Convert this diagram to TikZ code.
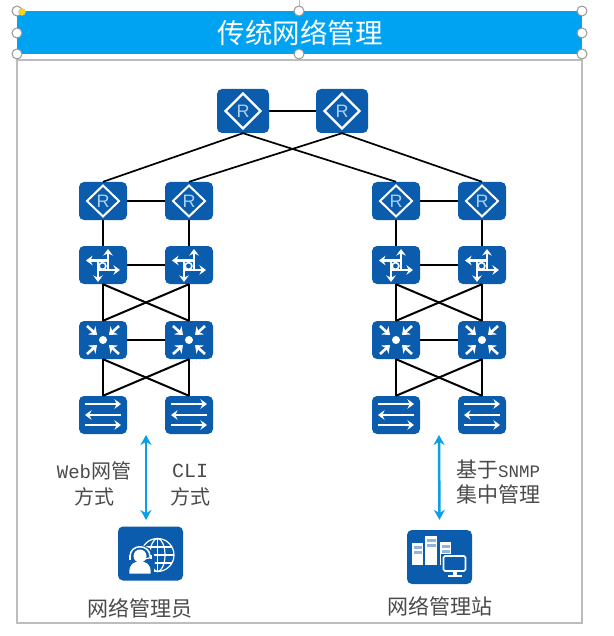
\documentclass[tikz,border=0pt]{standalone}
\usepackage{fontspec}
\setmainfont{Noto Sans CJK SC}
\setsansfont{Liberation Sans}
\newfontfamily\lat{Liberation Mono}
\usetikzlibrary{arrows.meta}
\definecolor{dev}{HTML}{0B5CAD}
\definecolor{ttl}{HTML}{00A2F2}
\definecolor{arr}{HTML}{0A9FE6}
\definecolor{frm}{HTML}{BDBDBD}
\definecolor{txt}{HTML}{4A4A4A}
\definecolor{rr}{HTML}{A9D2F2}
\tikzset{
  x=1pt,y=-1pt,
  devbox/.style={fill=dev,rounded corners=5pt,minimum width=48pt,minimum height=38pt,inner sep=0pt,draw=none},
  routerbox/.style={devbox,text=rr,font=\sffamily\fontsize{18}{18}\selectfont},
  toprouter/.style={routerbox,minimum width=52pt,minimum height=44pt},
  bigbox/.style={devbox,minimum width=65pt,minimum height=54pt},
  link/.style={line width=2pt,black},
  both/.style={line width=2.5pt,arr,{Stealth[length=10pt,width=11pt]}-{Stealth[length=10pt,width=11pt]}},
  lbl/.style={text=txt,font=\fontsize{20}{20}\selectfont,inner sep=0pt},
  handle/.style={circle,draw=frm!80!black,fill=white,line width=1pt,minimum size=10pt,inner sep=0pt},
  icoarrow/.style={white,line width=2.2pt,-{Stealth[length=6.5pt,width=9.5pt]}},
  rdiamond/.pic={\draw[white,line width=2pt,line join=miter] (-16,0)--(0,-15.5)--(16,0)--(0,15.5)--cycle;},
  topdiamond/.pic={\draw[white,line width=2.2pt,line join=miter] (-17.5,0)--(0,-17.5)--(17.5,0)--(0,17.5)--cycle;},
  l3icon/.pic={
    \draw[icoarrow] (5,5)--(5,-16);
    \draw[icoarrow] (5,-4.5)--(-17,-4.5);
    \draw[icoarrow] (-5,5)--(17,5);
    \draw[icoarrow] (-5,-4.5)--(-5,17);
    \draw[white,fill=dev,line width=1.6pt] (-0.5,1) circle (3.4);
  },
  coreicon/.pic={
    \fill[white] (0,0) circle (4);
    \foreach \sx/\sy in {1/1,1/-1,-1/1,-1/-1}{
      \draw[white,line width=2.6pt,-{Stealth[length=7pt,width=11pt]}] (\sx*16,\sy*14)--(\sx*6,\sy*5);
    }
  },
  l2icon/.pic={
    \draw[icoarrow] (-18,-11)--(18,-11);
    \draw[icoarrow] (18,0)--(-18,0);
    \draw[icoarrow] (-18,10)--(18,10);
  },
}
\begin{document}
\begin{tikzpicture}
\useasboundingbox (0,0) rectangle (613,636);
% frame and title
\draw[frm,line width=1.4pt] (17,60) rectangle (582,623);
\draw[frm,line width=1pt] (299,0)--(299,11);
\fill[ttl] (17,11) rectangle (582,54);
\node[text=white,font=\fontsize{27.5}{27.5}\selectfont,inner sep=0pt] (title) at (300,33) {传统网络管理};
\foreach \n/\a/\b in {h1/17/11,h2/299/11,h3/582/11,h4/17/33,h5/582/33,h6/17/54,h7/299/54,h8/582/54}{
  \node[handle] (\n) at (\a,\b) {};
}
\fill[yellow!75!orange,draw=frm] (22,12) circle (3.5);
% devices
\node[toprouter] (t1) at (243,111) {R};
\node[toprouter] (t2) at (342,111) {R};
\foreach \c/\x in {a/103,b/189,c/396,d/482}{
  \node[routerbox] (r\c) at (\x,201) {R};
  \node[devbox] (l\c) at (\x,265) {};
  \node[devbox] (k\c) at (\x,340) {};
  \node[devbox] (s\c) at (\x,415) {};
  \pic at (r\c) {rdiamond};
  \pic at (l\c) {l3icon};
  \pic at (k\c) {coreicon};
  \pic at (s\c) {l2icon};
}
\pic at (t1) {topdiamond};
\pic at (t2) {topdiamond};
% links
\draw[link] (t1)--(t2);
\draw[link,line width=1.7pt] (t1.south)--(ra.north);
\draw[link,line width=1.7pt] (t1.south)--(rc.north);
\draw[link,line width=1.7pt] (t2.south)--(rb.north);
\draw[link,line width=1.7pt] (t2.south)--(rd.north);
\foreach \p/\q in {a/b,c/d}{
  \draw[link] (r\p)--(r\q);
  \draw[link] (l\p)--(l\q);
  \draw[link] (k\p)--(k\q);
  \draw[link] (r\p)--(l\p);
  \draw[link] (r\q)--(l\q);
  \draw[link] (l\p.south)--(k\p.north);
  \draw[link] (l\q.south)--(k\q.north);
  \draw[link] (l\p.south)--(k\q.north);
  \draw[link] (l\q.south)--(k\p.north);
  \draw[link] (k\p.south)--(s\p.north);
  \draw[link] (k\q.south)--(s\q.north);
  \draw[link] (k\p.south)--(s\q.north);
  \draw[link] (k\q.south)--(s\p.north);
}
% management boxes
\node[bigbox] (mgr) at (150.5,553.5) {};
\node[bigbox] (nms) at (439.5,557) {};
% person + globe
\begin{scope}[shift={(150.5,553.5)}]
  \draw[white,line width=1.2pt] (7,1.5) circle (16.5);
  \draw[white,line width=1.2pt] (7,1.5) ellipse (7.5 and 16.5);
  \draw[white,line width=1.2pt] (-9.5,1.5)--(23.5,1.5) (7,-15)--(7,18) (-7,-6.5)--(21,-6.5) (-7,9.5)--(21,9.5);
  \fill[dev] (-11,7) circle (15.5);
  \fill[dev] (-24,4) rectangle (3,26);
  \fill[white] (-10.5,2.5) circle (6.5);
  \fill[white] (-21,20) .. controls (-22,10) and (-16,8) .. (-10.5,8) .. controls (-5,8) and (1,10) .. (0,20) -- cycle;
  \draw[white,line width=1.5pt] (-20.5,3) .. controls (-20.5,-10) and (-0.5,-10) .. (-0.5,3);
  \draw[white,line width=2pt] (-21,1)--(-21,6) (0,1)--(0,5);
  \draw[white,line width=1.2pt] (0,4)--(-7,6);
\end{scope}
% servers + monitor
\begin{scope}[shift={(439.5,557)}]
  \foreach \xa/\xb/\yt in {-27.5/-16.5/-14,-14.5/-2.5/-21,0.5/11.5/-15}{
    \fill[white] (\xa,\yt) rectangle (\xb,8);
    \fill[dev!45!white] (\xa+1.5,\yt+3) rectangle (\xb-1.5,\yt+6);
    \fill[dev!45!white] (\xa+1.5,\yt+8) rectangle (\xb-1.5,\yt+11);
  }
  \fill[dev] (1,-3) rectangle (29,22);
  \draw[white,line width=1.7pt,rounded corners=1.5pt,fill=dev] (4,-1) rectangle (26,14);
  \fill[white] (13,14) rectangle (17,18);
  \fill[white] (8,18) rectangle (22,20);
\end{scope}
% arrows
\coordinate (ua) at (146,435);
\coordinate (ub) at (439,435);
\coordinate (ma) at (146,527);
\draw[both,shorten >=7pt] (ua)--(ma);
\draw[both,shorten >=10pt] (ub)--(nms.north);
% labels
\node[lbl] (w1) at (94,471) {{\lat\fontsize{19}{19}\selectfont Web}网管};
\node[lbl] (w2) at (94,497) {方式};
\node[lbl] (c1) at (190,471) {{\lat CLI}};
\node[lbl] (c2) at (190,497) {方式};
\node[lbl,anchor=west,font=\fontsize{21}{21}\selectfont] (n1) at (456,469) {基于{\lat\fontsize{17.5}{17.5}\selectfont SNMP}};
\node[lbl,anchor=west,font=\fontsize{21}{21}\selectfont] (n2) at (456,494) {集中管理};
\node[lbl,font=\fontsize{21}{21}\selectfont] (m1) at (140,608) {网络管理员};
\node[lbl,font=\fontsize{21}{21}\selectfont] (m2) at (440,606) {网络管理站};
\end{tikzpicture}
\end{document}
